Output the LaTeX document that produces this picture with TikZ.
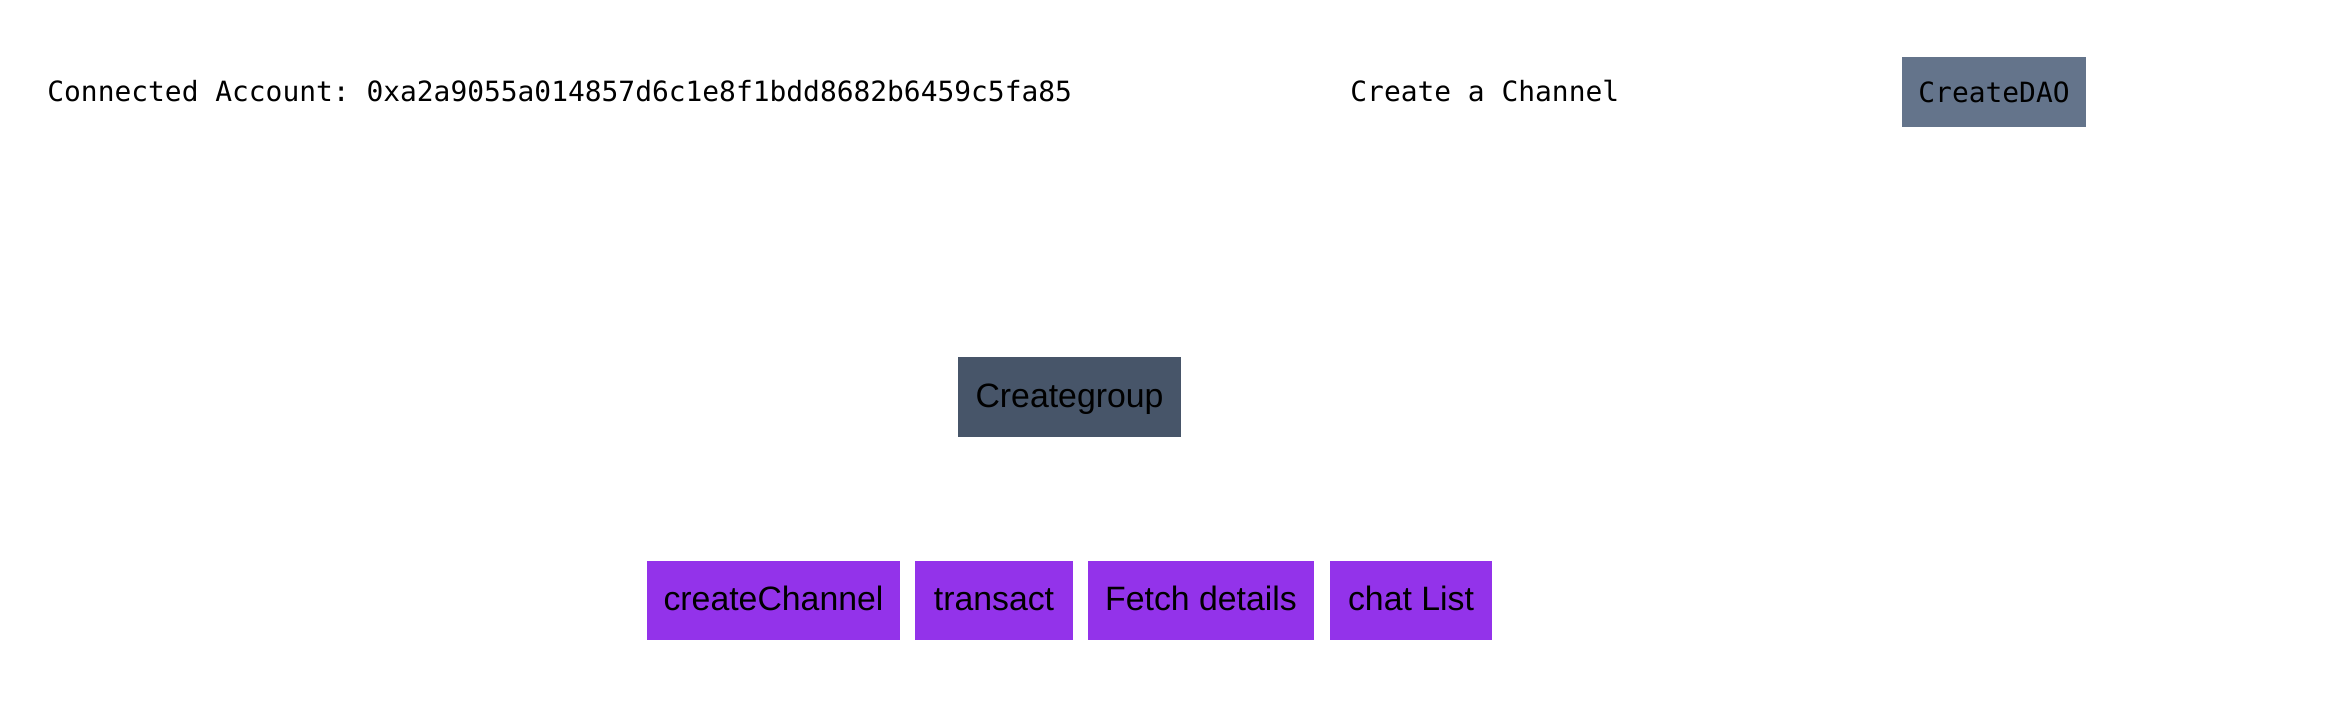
\documentclass[tikz,border=0pt]{standalone}
\usepackage{fontspec}
\setmonofont{DejaVu Sans Mono}
\setsansfont{Liberation Sans}
\definecolor{slatelight}{HTML}{64748B}
\definecolor{slatedark}{HTML}{475569}
\definecolor{btnpurple}{HTML}{9333EA}
\tikzset{
    monotext/.style={font=\fontsize{13.95}{16}\selectfont\ttfamily, inner sep=0pt, anchor=west},
    btn/.style={fill=btnpurple, font=\fontsize{16.9}{19}\selectfont\sffamily, inner sep=0pt,
        text height=12pt, text depth=2pt, minimum height=39.5pt},
}
\begin{document}
\begin{tikzpicture}[x=0.5pt,y=-0.5pt]
            \useasboundingbox (0,0) rectangle (2344,720);

            \node[monotext] (account) at (47,91) {Connected Account: 0xa2a9055a014857d6c1e8f1bdd8682b6459c5fa85};
            \node[monotext] (channel) at (1350,91) {Create a Channel};
            \node[monotext, anchor=center, fill=slatelight, minimum width=92pt, minimum height=35pt] (dao) at (1994,92) {CreateDAO};

            \node[btn, fill=slatedark, minimum width=111.5pt, minimum height=40pt] (group) at (1069.5,397) {Creategroup};

            \foreach \name/\txt/\cx/\w in {create/createChannel/773.5/126.5, transact/transact/994/79, fetch/Fetch details/1201/113, chat/chat List/1411/81} {
                \node[btn, minimum width=\w pt] (\name) at (\cx,600.5) {\txt};
            }
        \end{tikzpicture}
\end{document}
